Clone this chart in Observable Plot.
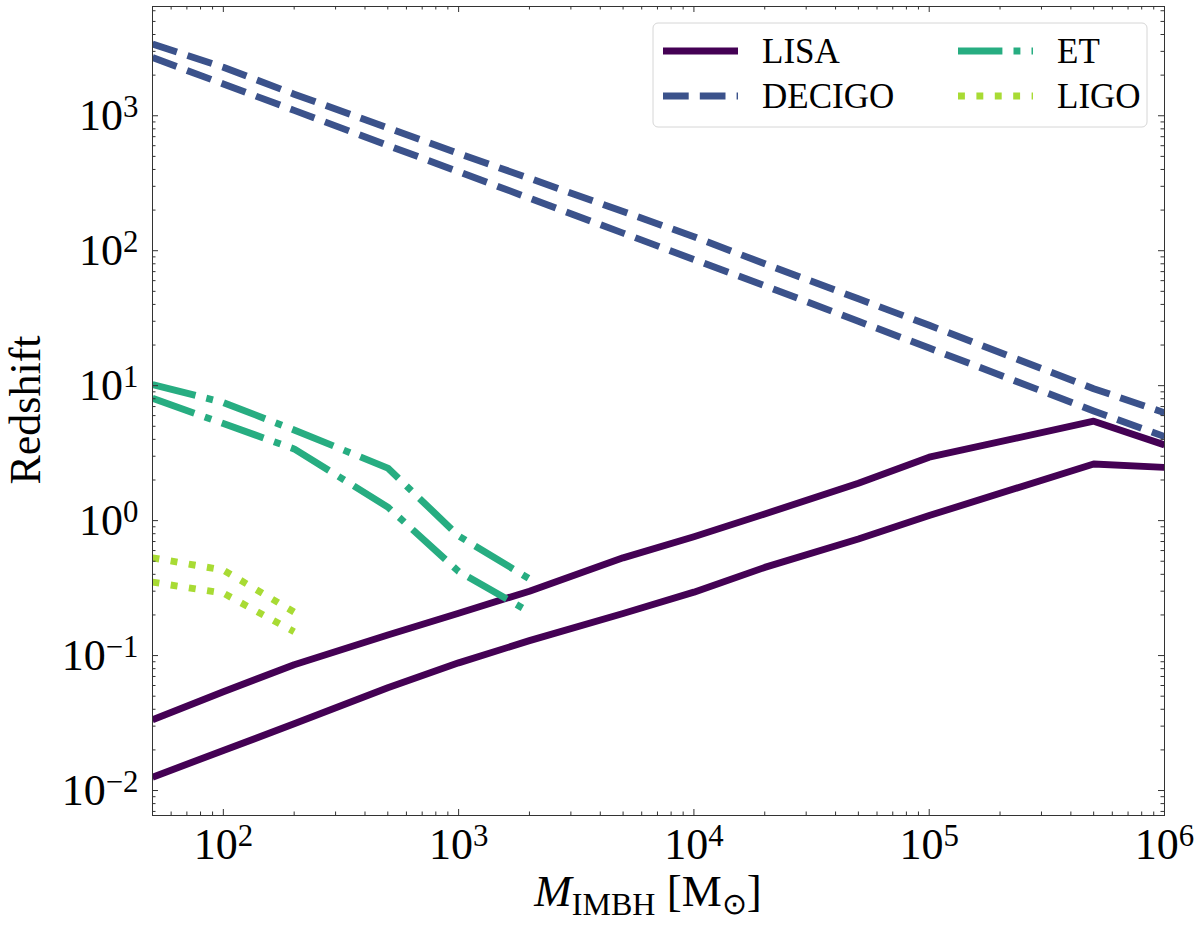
<!DOCTYPE html>
<html>
<head>
<meta charset="utf-8">
<script src="https://cdn.jsdelivr.net/npm/d3@7"></script>
<script src="https://cdn.jsdelivr.net/npm/@observablehq/plot@0.6"></script>
<style>
  body { margin: 0; background: #fff; }
</style>
</head>
<body>
<div id="chart"></div>
<script>
// masas (Msun) y redshift maximo
const massLisa = [50, 100, 200, 500, 1e3, 2e3, 5e3, 1e4, 2e4, 5e4, 1e5, 5e5, 1e6]
const lisaHigh = [0.0334, 0.054, 0.0855, 0.142, 0.206, 0.30, 0.53, 0.76, 1.12, 1.89, 2.95, 5.45, 3.64]
const lisaLow = [0.01256, 0.0198, 0.0312, 0.0577, 0.0883, 0.129, 0.205, 0.295, 0.45, 0.73, 1.09, 2.63, 2.48]

const massDecigo = [50, 100, 200, 500, 1e3, 2e3, 5e3, 1e4, 2e4, 5e4, 1e5, 5e5, 1e6]
const decigoHigh = [3400, 2290, 1445, 813, 525, 344, 195, 127, 80, 44, 28, 9.5, 6.3]
const decigoLow = [2700, 1720, 1096, 603, 385, 245, 135, 86, 55, 30, 19, 6.5, 4.2]

const massEt = [50, 100, 200, 500, 1e3, 2e3]
const etHigh = [10.2, 7.5, 4.7, 2.45, 0.77, 0.37]
const etLow = [8.05, 5.24, 3.4, 1.26, 0.42, 0.21]

const massLigo = [50, 100, 200]
const ligoHigh = [0.53, 0.43, 0.21]
const ligoLow = [0.35, 0.29, 0.15]

const detectors = ["LISA", "DECIGO", "ET", "LIGO"]

const xMajor = [1e2, 1e3, 1e4, 1e5, 1e6]
const yMajor = [1e-2, 1e-1, 1, 1e1, 1e2, 1e3]
const xDomain = [50, 1e6]
const yDomain = [0.00653, 6450]

// estilos (colores viridis, patrones tipo matplotlib con lw=5pt)
const color = {LISA: "#440154", DECIGO: "#3b528b", ET: "#27ad81", LIGO: "#a8db34"}
const dash = {LISA: null, DECIGO: "25.7,11.1", ET: "44.4,11.1,6.9,11.1", LIGO: "6.9,11.5"}
const lw = 6.9

const W = 1200, H = 929
const mL = 152, mR = 36, mT = 6, mB = 114
const innerW = W - mL - mR, innerH = H - mT - mB
const font = "Liberation Serif"

function rows(det, mass, high, low) {
  return [
    ...mass.map((m, i) => ({det, curve: "high", mass: m, z: high[i]})),
    ...mass.map((m, i) => ({det, curve: "low", mass: m, z: low[i]}))
  ]
}

const data = {
  LISA: rows("LISA", massLisa, lisaHigh, lisaLow),
  DECIGO: rows("DECIGO", massDecigo, decigoHigh, decigoLow),
  ET: rows("ET", massEt, etHigh, etLow),
  LIGO: rows("LIGO", massLigo, ligoHigh, ligoLow)
}

// ticks menores
const xMinor = []
for (let k = 1; k <= 5; k++) for (let m = 2; m <= 9; m++) {
  const v = m * 10 ** k
  if (v > xDomain[0] && v < xDomain[1]) xMinor.push(v)
}
const yMinor = []
for (let k = -3; k <= 3; k++) for (let m = 2; m <= 9; m++) {
  const v = m * 10 ** k
  if (v > yDomain[0] && v < yDomain[1]) yMinor.push(v)
}

const expo = d => String(Math.round(Math.log10(d))).replace("-", "\u2212")
const tickColor = "#333"

let chart = Plot.plot({
  width: W,
  height: H,
  marginLeft: mL,
  marginRight: mR,
  marginTop: mT,
  marginBottom: mB,
  style: {fontFamily: font, background: "white", color: "black"},
  x: {type: "log", domain: xDomain},
  y: {type: "log", domain: yDomain},
  marks: [
    ...detectors.map(d => Plot.line(data[d], {
      x: "mass", y: "z", z: "curve",
      stroke: color[d], strokeWidth: lw,
      strokeDasharray: dash[d],
      strokeLinejoin: "round", strokeLinecap: "butt",
      clip: true
    })),
    // ticks hacia dentro en los cuatro lados
    Plot.tickX(xMajor, {x: d => d, insetTop: innerH - 6, stroke: tickColor}),
    Plot.tickX(xMajor, {x: d => d, insetBottom: innerH - 6, stroke: tickColor}),
    Plot.tickX(xMinor, {x: d => d, insetTop: innerH - 3.5, stroke: tickColor}),
    Plot.tickX(xMinor, {x: d => d, insetBottom: innerH - 3.5, stroke: tickColor}),
    Plot.tickY(yMajor, {y: d => d, insetRight: innerW - 6, stroke: tickColor}),
    Plot.tickY(yMajor, {y: d => d, insetLeft: innerW - 6, stroke: tickColor}),
    Plot.tickY(yMinor, {y: d => d, insetRight: innerW - 3.5, stroke: tickColor}),
    Plot.tickY(yMinor, {y: d => d, insetLeft: innerW - 3.5, stroke: tickColor}),
    Plot.axisX({ticks: xMajor, tickSize: 0, tickPadding: 12, tickFormat: expo,
      fontSize: 44, fontFamily: font, label: null}),
    Plot.axisY({ticks: yMajor, tickSize: 0, tickPadding: 14, tickFormat: expo,
      fontSize: 44, fontFamily: font, label: null}),
    Plot.frame({stroke: tickColor, strokeWidth: 1})
  ]
})

const svg = d3.select(chart)

// etiquetas 10^k con superindice
svg.selectAll('g[aria-label="x-axis tick label"] text, g[aria-label="y-axis tick label"] text').each(function () {
  const e = this.textContent
  const t = d3.select(this)
  t.text(null)
  t.append("tspan").text("10")
  t.append("tspan").attr("dy", "-0.42em").attr("font-size", "0.7em").text(e)
})

// titulo de ejes
svg.append("text")
  .attr("transform", "translate(40,410) rotate(-90)")
  .attr("text-anchor", "middle")
  .attr("font-family", font)
  .attr("font-size", 44)
  .text("Redshift")

const xl = svg.append("text")
  .attr("x", 648).attr("y", 906)
  .attr("text-anchor", "middle")
  .attr("font-family", font)
  .attr("font-size", 45)
xl.append("tspan").attr("font-style", "italic").text("M")
xl.append("tspan").attr("font-size", 32).attr("dy", 9).text("IMBH")
xl.append("tspan").attr("dy", -9).text(" [M")
xl.append("tspan").attr("font-size", 30).attr("dy", 8).text("\u2299")
xl.append("tspan").attr("dy", -8).text("]")

// leyenda
const lg = svg.append("g")
lg.append("rect")
  .attr("x", 653).attr("y", 23).attr("width", 494).attr("height", 104).attr("rx", 5)
  .attr("fill", "white").attr("fill-opacity", 0.8).attr("stroke", "#d6d6d6")
detectors.forEach((d, i) => {
  const x0 = i < 2 ? 663 : 958
  const y0 = i % 2 === 0 ? 51 : 96
  lg.append("line")
    .attr("x1", x0).attr("x2", x0 + 75).attr("y1", y0).attr("y2", y0)
    .attr("stroke", color[d]).attr("stroke-width", lw)
    .attr("stroke-dasharray", dash[d])
  lg.append("text")
    .attr("x", x0 + 99).attr("y", y0).attr("dy", "0.35em")
    .attr("text-anchor", "start")
    .attr("font-family", font).attr("font-size", 35)
    .text(d)
})

d3.select('#chart').append(() => chart)
</script>
</body>
</html>
